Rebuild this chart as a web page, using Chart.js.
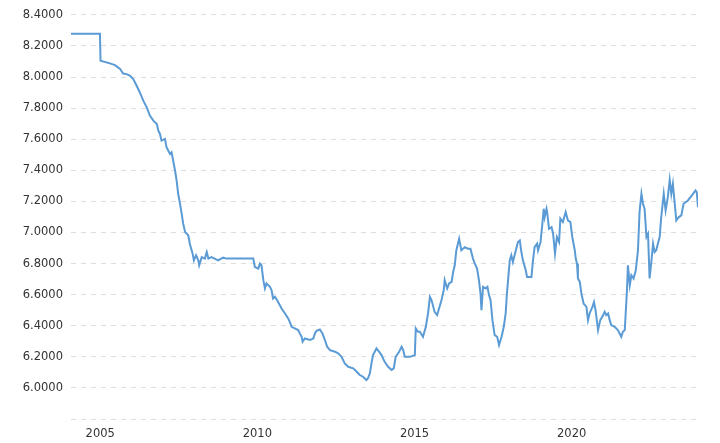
<!DOCTYPE html>
<html>
<head>
<meta charset="utf-8">
<script src="https://cdn.jsdelivr.net/npm/chart.js@4/dist/chart.umd.min.js"></script>
<style>
  html, body { margin: 0; padding: 0; background: #fff; }
  #wrap { width: 720px; height: 443px; position: relative; }
</style>
</head>
<body>
<div id="wrap"><canvas id="rateChart"></canvas></div>
<script>
// dates as decimal years
const years = [
  2004.07, 2004.99, 2005.01, 2005.31, 2005.47, 2005.63, 2005.73, 2005.84, 2005.95, 2006.05,
  2006.16, 2006.26, 2006.37, 2006.48, 2006.58, 2006.69, 2006.80, 2006.85, 2006.90, 2006.95,
  2007.06, 2007.11, 2007.22, 2007.27, 2007.32, 2007.38, 2007.43, 2007.48, 2007.54, 2007.59,
  2007.64, 2007.70, 2007.80, 2007.85, 2007.94, 2007.98, 2008.05, 2008.12, 2008.15, 2008.23,
  2008.33, 2008.39, 2008.44, 2008.54, 2008.75, 2008.91, 2009.02, 2009.44, 2009.87, 2009.92,
  2010.03, 2010.08, 2010.13, 2010.19, 2010.24, 2010.29, 2010.40, 2010.45, 2010.50, 2010.56,
  2010.66, 2010.77, 2010.88, 2010.98, 2011.03, 2011.09, 2011.19, 2011.30, 2011.35, 2011.41,
  2011.44, 2011.51, 2011.67, 2011.78, 2011.83, 2011.88, 2011.99, 2012.07, 2012.15, 2012.22,
  2012.31, 2012.47, 2012.57, 2012.68, 2012.78, 2012.89, 2013.05, 2013.16, 2013.26, 2013.36,
  2013.47, 2013.52, 2013.58, 2013.63, 2013.68, 2013.79, 2013.87, 2013.95, 2014.05, 2014.16,
  2014.27, 2014.34, 2014.40, 2014.51, 2014.59, 2014.64, 2014.69, 2014.85, 2015.01, 2015.04,
  2015.11, 2015.17, 2015.27, 2015.36, 2015.43, 2015.49, 2015.54, 2015.64, 2015.72, 2015.78,
  2015.86, 2015.93, 2015.96, 2016.04, 2016.10, 2016.18, 2016.23, 2016.28, 2016.33, 2016.42,
  2016.49, 2016.60, 2016.70, 2016.78, 2016.86, 2016.92, 2016.99, 2017.05, 2017.10, 2017.13,
  2017.18, 2017.27, 2017.32, 2017.37, 2017.42, 2017.48, 2017.55, 2017.63, 2017.69, 2017.77,
  2017.84, 2017.90, 2017.94, 2018.03, 2018.08, 2018.13, 2018.21, 2018.29, 2018.35, 2018.40,
  2018.45, 2018.54, 2018.58, 2018.72, 2018.77, 2018.82, 2018.90, 2018.93, 2019.01, 2019.07,
  2019.11, 2019.14, 2019.20, 2019.22, 2019.28, 2019.36, 2019.41, 2019.47, 2019.53, 2019.60,
  2019.64, 2019.72, 2019.81, 2019.88, 2019.96, 2020.02, 2020.10, 2020.13, 2020.17, 2020.20,
  2020.26, 2020.31, 2020.38, 2020.47, 2020.52, 2020.57, 2020.66, 2020.71, 2020.76, 2020.84,
  2020.91, 2021.00, 2021.05, 2021.10, 2021.16, 2021.21, 2021.26, 2021.37, 2021.47, 2021.58,
  2021.63, 2021.69, 2021.76, 2021.79, 2021.85, 2021.90, 2021.97, 2022.04, 2022.11, 2022.16,
  2022.22, 2022.27, 2022.32, 2022.38, 2022.43, 2022.48, 2022.54, 2022.59, 2022.64, 2022.69,
  2022.80, 2022.85, 2022.93, 2022.99, 2023.06, 2023.12, 2023.17, 2023.22, 2023.28, 2023.33,
  2023.41, 2023.49, 2023.56, 2023.70, 2023.86, 2023.94, 2023.98, 2024.02
];

const rates = [
  8.278, 8.278, 8.105, 8.088, 8.077, 8.052, 8.023, 8.019, 8.008, 7.987,
  7.944, 7.901, 7.848, 7.805, 7.752, 7.720, 7.698, 7.655, 7.634, 7.591,
  7.602, 7.548, 7.506, 7.516, 7.463, 7.399, 7.335, 7.249, 7.185, 7.121,
  7.057, 7.003, 6.982, 6.928, 6.864, 6.821, 6.853, 6.821, 6.789, 6.842,
  6.832, 6.874, 6.832, 6.842, 6.821, 6.838, 6.832, 6.832, 6.832, 6.778,
  6.768, 6.800, 6.789, 6.693, 6.640, 6.672, 6.650, 6.629, 6.575, 6.586,
  6.553, 6.511, 6.479, 6.447, 6.425, 6.393, 6.383, 6.372, 6.351, 6.329,
  6.297, 6.318, 6.308, 6.318, 6.351, 6.367, 6.376, 6.351, 6.308, 6.265,
  6.243, 6.233, 6.222, 6.200, 6.158, 6.136, 6.126, 6.104, 6.083, 6.072,
  6.051, 6.062, 6.094, 6.158, 6.211, 6.254, 6.233, 6.211, 6.168, 6.136,
  6.115, 6.126, 6.200, 6.233, 6.265, 6.243, 6.200, 6.200, 6.211, 6.383,
  6.361, 6.361, 6.329, 6.393, 6.479, 6.586, 6.565, 6.489, 6.468, 6.511,
  6.565, 6.629, 6.693, 6.640, 6.672, 6.682, 6.746, 6.789, 6.885, 6.960,
  6.885, 6.906, 6.896, 6.896, 6.832, 6.800, 6.768, 6.693, 6.607, 6.500,
  6.650, 6.640, 6.650, 6.597, 6.565, 6.436, 6.340, 6.329, 6.276, 6.329,
  6.393, 6.479, 6.607, 6.821, 6.853, 6.810, 6.874, 6.939, 6.949, 6.874,
  6.821, 6.757, 6.714, 6.714, 6.821, 6.906, 6.928, 6.885, 6.939, 7.060,
  7.153, 7.099, 7.153, 7.131, 7.024, 7.035, 6.992, 6.864, 6.971, 6.939,
  7.089, 7.067, 7.131, 7.078, 7.067, 6.971, 6.885, 6.832, 6.800, 6.704,
  6.682, 6.607, 6.543, 6.521, 6.436, 6.479, 6.521, 6.553, 6.500, 6.372,
  6.436, 6.468, 6.489, 6.468, 6.479, 6.436, 6.404, 6.393, 6.372, 6.329,
  6.361, 6.372, 6.629, 6.789, 6.661, 6.725, 6.704, 6.757, 6.885, 7.131,
  7.249, 7.185, 7.153, 6.971, 6.992, 6.704, 6.821, 6.928, 6.874, 6.885,
  6.971, 7.099, 7.249, 7.142, 7.227, 7.339, 7.249, 7.313, 7.185, 7.078,
  7.099, 7.110, 7.185, 7.206, 7.249, 7.270, 7.259, 7.163
];

// tick labels
const xTickYears = [2005, 2010, 2015, 2020];
const yTickValues = [5.8, 6.0, 6.2, 6.4, 6.6, 6.8, 7.0, 7.2, 7.4, 7.6, 7.8, 8.0, 8.2, 8.4];

const points = years.map((yr, i) => ({ x: yr, y: rates[i] }));

const ctx = document.getElementById('rateChart').getContext('2d');

new Chart(ctx, {
  type: 'line',
  data: {
    datasets: [{
      data: points,
      borderColor: '#5b9bd5',
      borderWidth: 2,
      pointRadius: 0,
      tension: 0,
      fill: false
    }]
  },
  options: {
    responsive: true,
    maintainAspectRatio: false,
    animation: false,
    layout: { padding: { top: 14, right: 22, bottom: 0, left: 0 } },
    plugins: {
      legend: { display: false },
      tooltip: { enabled: false }
    },
    scales: {
      x: {
        type: 'linear',
        min: years[0],
        max: years[years.length - 1],
        afterBuildTicks: (scale) => {
          scale.ticks = xTickYears.map(v => ({ value: v }));
        },
        afterFit: (scale) => { scale.height = 24; },
        grid: { display: false, drawTicks: false },
        border: { display: false },
        ticks: {
          padding: 8,
          color: '#333',
          font: { family: 'DejaVu Sans', size: 11.5 },
          maxRotation: 0,
          callback: (v) => String(v)
        }
      },
      y: {
        min: 5.8,
        max: 8.4,
        afterBuildTicks: (scale) => {
          scale.ticks = yTickValues.map(v => ({ value: v }));
        },
        afterFit: (scale) => { scale.width = 71; },
        grid: { color: '#dddddd', lineWidth: 1, drawTicks: false },
        border: { display: false, dash: [5, 5] },
        ticks: {
          padding: 8,
          color: '#333',
          font: { family: 'DejaVu Sans', size: 11.5 },
          callback: (v) => (Math.abs(v - 5.8) < 0.001 ? '' : v.toFixed(4))
        }
      }
    }
  }
});
</script>
</body>
</html>
